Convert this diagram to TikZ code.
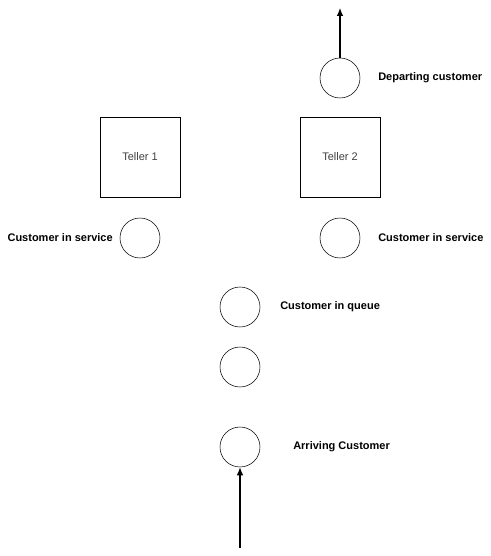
\documentclass[tikz,border=0pt]{standalone}
\usepackage{fontspec}
\setmainfont{Liberation Sans}
\usetikzlibrary{arrows.meta}
\tikzset{
	cust/.style={draw, circle, minimum size=30pt, inner sep=0pt},
	teller/.style={draw, minimum size=60pt, inner sep=0pt, text=black!75, font=\fontsize{8.25}{10}\selectfont},
	lbl/.style={font=\bfseries\fontsize{8.25}{10}\selectfont, inner sep=0pt},
	flow/.style={line width=0.9pt, -{Latex[length=6pt,width=5pt]}}
}
\begin{document}
\begin{tikzpicture}[x=0.75pt, y=-0.75pt]
			%%%%% START %%%%%
			
			\useasboundingbox (0, 0) rectangle (491, 556);
			
			\node[teller] (teller1) at (140, 157) {Teller 1};
			\node[teller] (teller2) at (340, 157) {Teller 2};
			
			\node[cust] (depart) at (340, 78) {};
			\node[lbl, anchor=west] (departlbl) at (378, 78) {Departing customer};
			\coordinate (exit) at (340, 8);
			\draw[flow] (depart) -- (exit);
			
			\node[cust] (serve1) at (140, 238) {};
			\node[lbl, anchor=east] (serve1lbl) at (113, 238) {Customer in service};
			\node[cust] (serve2) at (340, 238) {};
			\node[lbl, anchor=west] (serve2lbl) at (378, 238) {Customer in service};
			
			\node[cust] (queue1) at (240, 307) {};
			\node[lbl, anchor=west] (queuelbl) at (280, 307) {Customer in queue};
			\node[cust] (queue2) at (240, 367) {};
			
			\node[cust] (arrive) at (240, 447) {};
			\node[lbl, anchor=west] (arrivelbl) at (293, 447) {Arriving Customer};
			\coordinate (entry) at (240, 548);
			\draw[flow] (entry) -- (arrive);
			
			%%%%% END %%%%%
\end{tikzpicture}
\end{document}
